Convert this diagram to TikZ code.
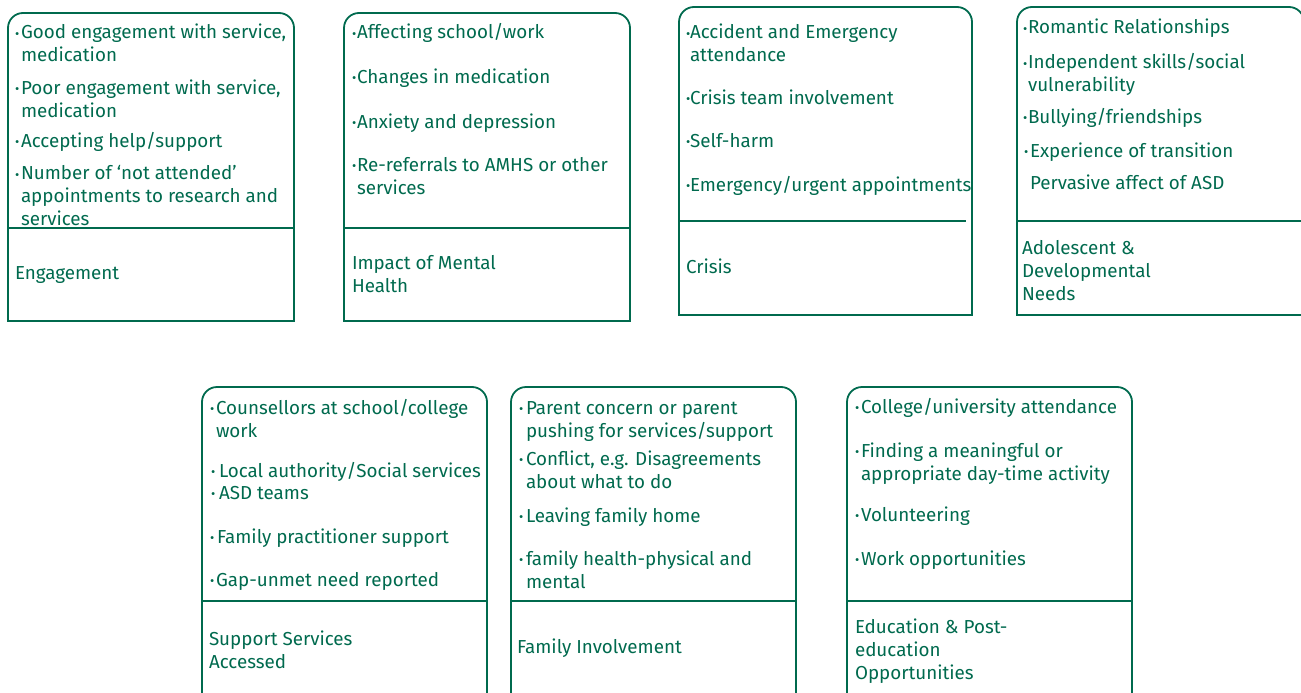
\documentclass[tikz,border=0pt]{standalone}
\usepackage{fontspec}
\setmainfont{Fira Sans}
\definecolor{grn}{RGB}{0,106,78}
\tikzset{
  boxline/.style={draw=grn, line width=1.8pt},
  divline/.style={draw=grn, line width=1.4pt},
  txt/.style={anchor=base west, inner sep=0pt, outer sep=0pt, text=grn, font=\fontsize{18.8}{23}\selectfont, align=left},
  bul/.style={anchor=base west, inner sep=0pt, outer sep=0pt, text=grn, font=\fontsize{13}{13}\selectfont},
}
% #4 = baseline of the first line, #6 = baseline of the last line
\newcommand{\itm}[6]{%
  \node[bul] (#1b) at (#2,#4-0.5) {•};
  \node[txt] (#1) at (#3,#6) {#5};}
\begin{document}
\begin{tikzpicture}[x=1pt,y=-1pt]
\useasboundingbox (0,0) rectangle (1301,693);
\clip (0,0) rectangle (1301,693);
% ---------- boxes ----------
\draw[boxline] (8,321) [rounded corners=15pt] -- (8,13) -- (294,13) [sharp corners] -- (294,321) -- cycle;
\draw[divline] (8,228) -- (294,228);
\draw[boxline] (344,321) [rounded corners=15pt] -- (344,13) -- (630,13) [sharp corners] -- (630,321) -- cycle;
\draw[divline] (344,228) -- (630,228);
\draw[boxline] (679,315) [rounded corners=15pt] -- (679,7) -- (972,7) [sharp corners] -- (972,315) -- cycle;
\draw[divline] (680,221) -- (966,221);
\draw[boxline] (1017,315) [rounded corners=15pt] -- (1017,7) -- (1304,7) [sharp corners] -- (1304,315) -- cycle;
\draw[divline] (1017,221) -- (1304,221);
\draw[boxline] (202,700) [rounded corners=15pt] -- (202,387) -- (487,387) [sharp corners] -- (487,700);
\draw[divline] (202,601) -- (487,601);
\draw[boxline] (511,700) [rounded corners=15pt] -- (511,387) -- (796,387) [sharp corners] -- (796,700);
\draw[divline] (511,601) -- (796,601);
\draw[boxline] (847,700) [rounded corners=15pt] -- (847,387) -- (1132,387) [sharp corners] -- (1132,700);
\draw[divline] (847,601) -- (1132,601);
% ---------- box 1 ----------
\itm{a1}{15}{21}{39}{Good engagement with service,\\medication}{62}
\itm{a2}{15}{21}{94}{Poor engagement with service,\\medication}{117}
\itm{a3}{15}{21}{147}{Accepting help/support}{147}
\itm{a4}{15}{21}{180}{Number of ‘not attended’\\appointments to research and\\services}{225}
\node[txt] (la) at (15,279) {Engagement};
% ---------- box 2 ----------
\itm{b1}{352}{357}{39}{Affecting school/work}{39}
\itm{b2}{352}{357}{83}{Changes in medication}{83}
\itm{b3}{352}{357}{128}{Anxiety and depression}{128}
\itm{b4}{352}{357}{171}{Re-referrals to AMHS or other\\services}{194}
\node[txt] (lb) at (352,292) {Impact of Mental\\Health};
% ---------- box 3 ----------
\itm{c1}{686}{690}{39}{Accident and Emergency\\attendance}{62}
\itm{c2}{686}{690}{104}{Crisis team involvement}{104}
\itm{c3}{686}{690}{147}{Self-harm}{147}
\itm{c4}{686}{690}{191}{Emergency/urgent appointments}{191}
\node[txt] (lc) at (686,273) {Crisis};
% ---------- box 4 ----------
\itm{d1}{1023}{1028}{34}{Romantic Relationships}{34}
\itm{d2}{1023}{1028}{69}{Independent skills/social\\vulnerability}{92}
\itm{d3}{1023}{1028}{123}{Bullying/friendships}{123}
\itm{d4}{1024}{1030}{157}{Experience of transition}{157}
\node[txt] (d5) at (1030,189) {Pervasive affect of ASD};
\node[txt] (ld) at (1022,300) {Adolescent \&\\Developmental\\Needs};
% ---------- box 5 ----------
\itm{e1}{210}{216}{414}{Counsellors at school/college\\work}{437}
\itm{e2}{211}{219}{477}{Local authority/Social services}{477}
\itm{e3}{211}{219}{499}{ASD teams}{499}
\itm{e4}{210}{217}{543}{Family practitioner support}{543}
\itm{e5}{210}{216}{586}{Gap-unmet need reported}{586}
\node[txt] (le) at (209,668) {Support Services\\Accessed};
% ---------- box 6 ----------
\itm{f1}{519}{526}{414}{Parent concern or parent\\pushing for services/support}{437}
\itm{f2}{519}{526}{465}{Conflict, e.g. Disagreements\\about what to do}{488}
\itm{f3}{519}{526}{522}{Leaving family home}{522}
\itm{f4}{519}{526}{565}{family health-physical and\\mental}{588}
\node[txt] (lf) at (517,653) {Family Involvement};
% ---------- box 7 ----------
\itm{g1}{855}{861}{413}{College/university attendance}{413}
\itm{g2}{855}{861}{457}{Finding a meaningful or\\appropriate day-time activity}{480}
\itm{g3}{855}{861}{521}{Volunteering}{521}
\itm{g4}{855}{861}{565}{Work opportunities}{565}
\node[txt] (lg) at (855,679) {Education \& Post-\\education\\Opportunities};
\end{tikzpicture}
\end{document}
